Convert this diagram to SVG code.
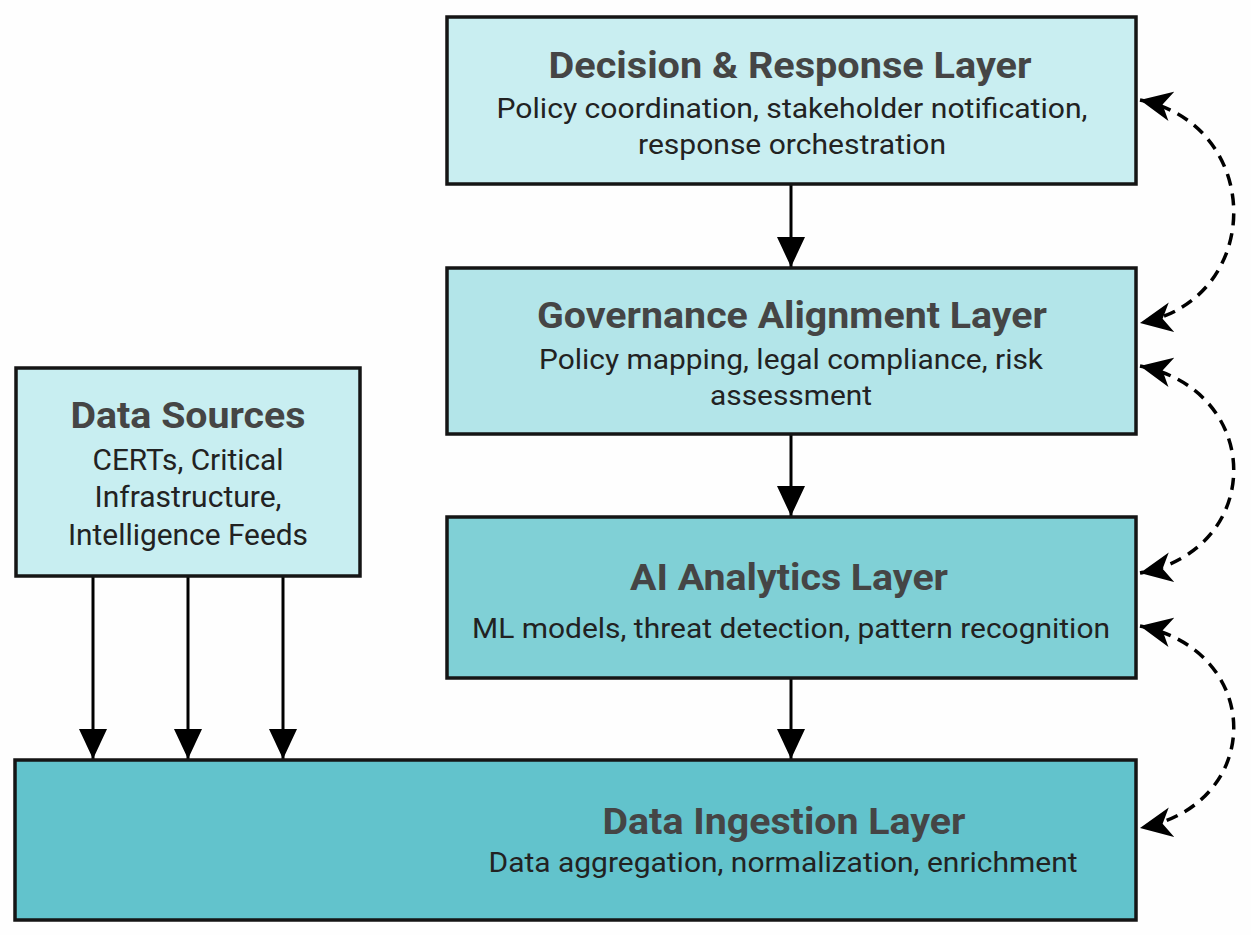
<svg xmlns="http://www.w3.org/2000/svg" width="1251" height="935" viewBox="0 0 1251 935">
<defs>
<style>
.box{stroke:#151515;stroke-width:3.5}
.t{font-family:Roboto,"Liberation Sans",sans-serif;font-weight:700;font-size:37px;fill:#454545;text-anchor:middle}
.s{font-family:Roboto,"Liberation Sans",sans-serif;font-size:28px;fill:#222;text-anchor:middle}
.ds{font-family:Roboto,"Open Sans","Liberation Sans",sans-serif;font-size:30px;fill:#222;text-anchor:middle}
.solid{stroke:#000;stroke-width:3;fill:none}
.dash{stroke:#000;stroke-width:3.5;fill:none;stroke-dasharray:12 8}
</style>
<marker id="ah" markerUnits="userSpaceOnUse" markerWidth="32" markerHeight="32" viewBox="0 0 32 32" refX="32" refY="16" orient="auto-start-reverse">
<path d="M0,1 L32,16 L0,31 L9,16 Z" fill="#000"/>
</marker>
<marker id="ahs" markerUnits="userSpaceOnUse" markerWidth="30" markerHeight="30" viewBox="0 0 30 30" refX="30" refY="15" orient="auto">
<path d="M0,1 L30,15 L0,29 Z" fill="#000"/>
</marker>
</defs>
<rect width="1251" height="935" fill="#fefefe"/>
<g id="connectors">
<line class="solid" x1="791" y1="184" x2="791" y2="267" marker-end="url(#ahs)"/>
<line class="solid" x1="791" y1="434" x2="791" y2="516" marker-end="url(#ahs)"/>
<line class="solid" x1="791" y1="678" x2="791" y2="759" marker-end="url(#ahs)"/>
<line class="solid" x1="93" y1="576" x2="93" y2="759" marker-end="url(#ahs)"/>
<line class="solid" x1="188" y1="576" x2="188" y2="759" marker-end="url(#ahs)"/>
<line class="solid" x1="283" y1="576" x2="283" y2="759" marker-end="url(#ahs)"/>
<path class="dash" d="M1140,100 C1265,125 1265,300 1140,323" marker-start="url(#ah)" marker-end="url(#ah)"/>
<path class="dash" d="M1140,366 C1265,391 1265,550 1140,573" marker-start="url(#ah)" marker-end="url(#ah)"/>
<path class="dash" d="M1140,626 C1265,651 1265,805 1140,828" marker-start="url(#ah)" marker-end="url(#ah)"/>
</g>
<g id="decision">
<rect class="box" x="447" y="17" width="689" height="167" fill="#c9eef1"/>
<text class="t" x="790" y="78" textLength="483" lengthAdjust="spacingAndGlyphs">Decision &amp; Response Layer</text>
<text class="s" x="792" y="118" textLength="591" lengthAdjust="spacingAndGlyphs">Policy coordination, stakeholder notification,</text>
<text class="s" x="792" y="154" textLength="308" lengthAdjust="spacingAndGlyphs">response orchestration</text>
</g>
<g id="governance">
<rect class="box" x="447" y="268" width="689" height="166" fill="#b3e5e9"/>
<text class="t" x="792" y="328" textLength="510" lengthAdjust="spacingAndGlyphs">Governance Alignment Layer</text>
<text class="s" x="791" y="369" textLength="504" lengthAdjust="spacingAndGlyphs">Policy mapping, legal compliance, risk</text>
<text class="s" x="791" y="405" textLength="162" lengthAdjust="spacingAndGlyphs">assessment</text>
</g>
<g id="analytics">
<rect class="box" x="447" y="517" width="689" height="161" fill="#80d0d6"/>
<text class="t" x="789" y="590" textLength="318" lengthAdjust="spacingAndGlyphs">AI Analytics Layer</text>
<text class="s" x="791" y="638" textLength="638" lengthAdjust="spacingAndGlyphs">ML models, threat detection, pattern recognition</text>
</g>
<g id="ingestion">
<rect class="box" x="15" y="760" width="1121" height="160" fill="#62c3cc"/>
<text class="t" x="784" y="834" textLength="363" lengthAdjust="spacingAndGlyphs">Data Ingestion Layer</text>
<text class="s" x="783" y="872" textLength="589" lengthAdjust="spacingAndGlyphs">Data aggregation, normalization, enrichment</text>
</g>
<g id="sources">
<rect class="box" x="16" y="368" width="344" height="208" fill="#c8eef1"/>
<text class="t" x="188" y="428" textLength="235" lengthAdjust="spacingAndGlyphs">Data Sources</text>
<text class="ds" x="188" y="470" textLength="191" lengthAdjust="spacingAndGlyphs">CERTs, Critical</text>
<text class="ds" x="188" y="507" textLength="187" lengthAdjust="spacingAndGlyphs">Infrastructure,</text>
<text class="ds" x="188" y="545" textLength="240" lengthAdjust="spacingAndGlyphs">Intelligence Feeds</text>
</g>
</svg>
